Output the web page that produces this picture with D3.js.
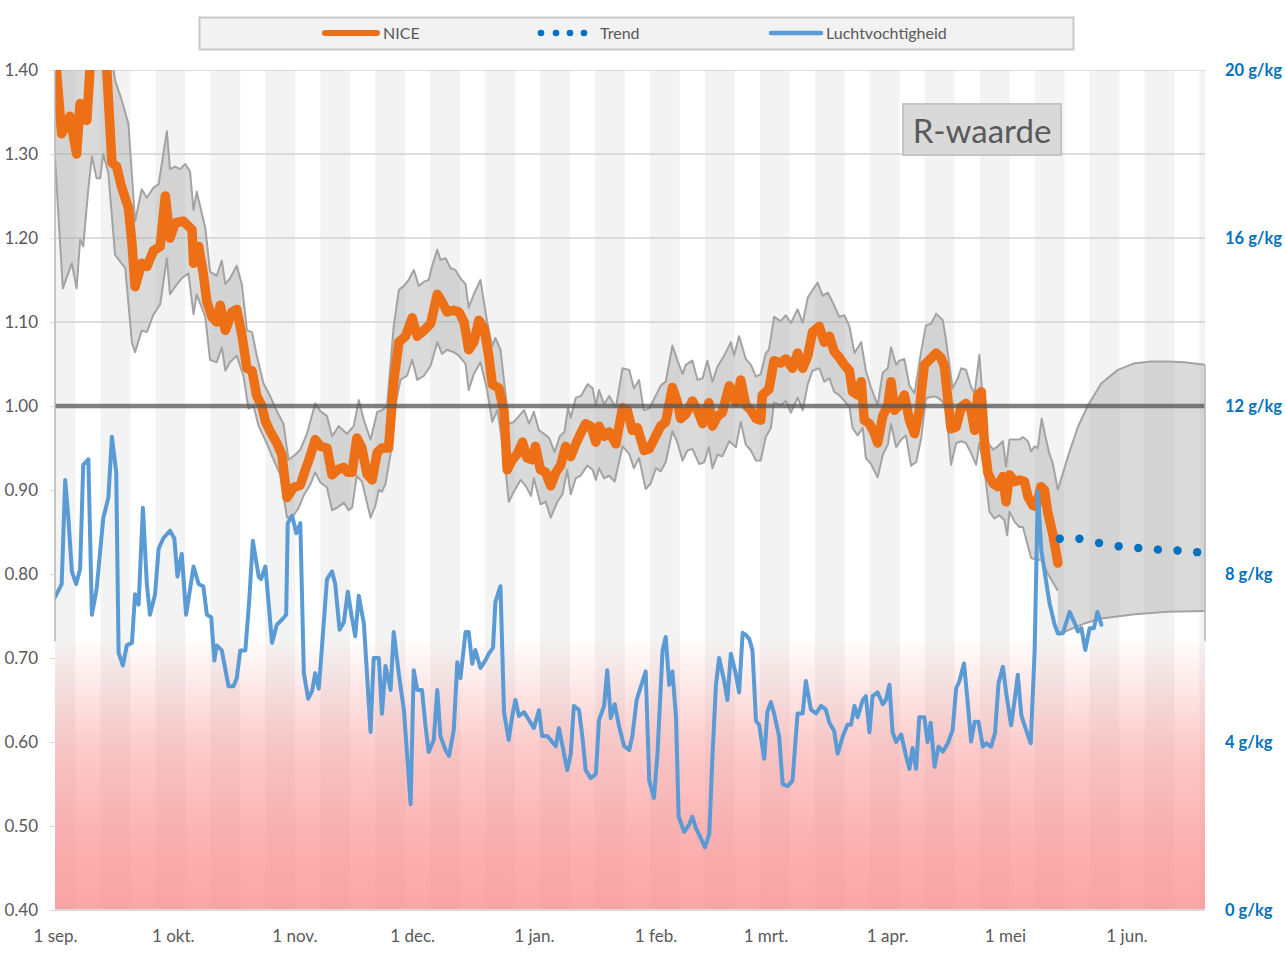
<!DOCTYPE html>
<html><head><meta charset="utf-8">
<script src="https://cdn.jsdelivr.net/npm/d3@7"></script>
<style>body{margin:0;background:#fff;} svg{display:block;font-family:Lato,"Open Sans",sans-serif;}</style>
</head><body><svg id="c" width="1285" height="962"></svg>
<script>
// ---------- data ----------
const startDate = "2020-09-01";
const endDate = "2021-06-21";
const monthTicks = ["2020-09-01","2020-10-01","2020-11-01","2020-12-01","2021-01-01","2021-02-01","2021-03-01","2021-04-01","2021-05-01","2021-06-01"];
const monthLabels = ["1 sep.","1 okt.","1 nov.","1 dec.","1 jan.","1 feb.","1 mrt.","1 apr.","1 mei","1 jun."];
const rTicks = [0.4,0.5,0.6,0.7,0.8,0.9,1.0,1.1,1.2,1.3,1.4];
const rGrid = [1.1,1.2,1.3,1.4];
const hTicks = [0,4,8,12,16,20];
const legendLabels = ["NICE","Trend","Luchtvochtigheid"];
const titleLabel = "R-waarde";
const refLevel = 1.0;

// [days since 1 sep, R-value]
const nice = [[0,1.42],[1.7,1.324],[3.8,1.345],[5.5,1.30],[6.4,1.36],[8.1,1.34],[8.9,1.40],[10,1.46],[11.5,1.48],[12.8,1.42],[13.2,1.40],[14.5,1.29],[15.7,1.285],[17,1.26],[18.7,1.236],[19.6,1.194],[20.4,1.142],[22.1,1.17],[23.4,1.166],[25.1,1.185],[26.8,1.19],[28.1,1.25],[29.3,1.20],[30.6,1.218],[32.7,1.22],[34.9,1.21],[35.3,1.17],[36.6,1.19],[37.8,1.157],[38.7,1.124],[40,1.106],[41.2,1.10],[42.1,1.12],[43.4,1.09],[45.1,1.112],[46.3,1.115],[47.6,1.085],[48.9,1.045],[50.2,1.042],[51.4,1.012],[52.7,1.0],[53.6,0.982],[54.8,0.97],[56.6,0.955],[57.8,0.942],[59.1,0.891],[60.8,0.903],[62.5,0.906],[63.8,0.924],[65,0.94],[66.3,0.96],[67.6,0.952],[69.3,0.95],[70.6,0.918],[71.9,0.924],[73.5,0.927],[74.6,0.921],
[75.7,0.921],[76.9,0.962],[78.2,0.95],[79.5,0.919],[80.8,0.912],[82.1,0.945],[83.3,0.95],[85,0.95],[86.3,1.029],[87.6,1.076],[89.3,1.083],[91,1.105],[92.3,1.083],[94,1.09],[95.7,1.098],[97.4,1.133],[98.6,1.124],[99.9,1.112],[101.6,1.114],[102.9,1.112],[104.2,1.10],[105.4,1.067],[106.7,1.076],[108,1.102],[109.3,1.093],[110.5,1.06],[111.4,1.026],[113.1,1.021],[114.4,0.993],[115.2,0.924],[116.5,0.936],[117.8,0.943],[119.1,0.957],[120.3,0.938],[121.6,0.936],[122.4,0.952],[123.7,0.924],[125,0.921],[126.3,0.905],[127.6,0.921],[128.8,0.929],[130.1,0.952],[131.4,0.94],[132.7,0.955],[133.9,0.967],[135.2,0.979],[136.5,0.976],[137.8,0.957],[138.6,0.976],[139.9,0.964],[141.2,0.969],[142.9,0.955],[144.6,0.998],[145.8,0.995],[147.1,0.971],
[148.4,0.974],[150.1,0.947],[151.4,0.949],[152.6,0.96],[154.3,0.976],[155.6,0.981],[157.3,1.022],[158.6,1.004],[159.4,0.985],[160.7,0.99],[162.4,1.006],[163.7,0.995],[165,0.979],[166.6,1.004],[167.5,0.976],[168.8,0.988],[170,0.992],[171.8,1.024],[173.5,1.004],[174.7,1.031],[176,1.001],[177.3,0.995],[178.6,0.985],[179.8,0.983],[180.2,1.013],[181.9,1.02],[183.2,1.054],[184.9,1.051],[186.2,1.056],[187.9,1.045],[189.2,1.063],[190.5,1.045],[191.8,1.06],[193,1.088],[194.7,1.095],[196,1.076],[197.3,1.083],[198.5,1.065],[199.8,1.058],[201.1,1.049],[202.4,1.042],[203.2,1.017],[204.5,1.013],[205.4,1.029],[206.2,0.983],[207.5,0.979],[208.8,0.967],[209.6,0.956],[210.9,0.988],[212.2,1.001],[213,1.029],[213.9,0.995],[215.1,1.001],[216.4,1.013],[217.7,0.983],[219,0.967],[220.2,0.995],
[221.5,1.049],[222.8,1.055],[224.5,1.063],[225.8,1.057],[226.6,1.047],[227.5,1.007],[228.3,0.973],[229.6,0.975],[230.9,0.999],[232.1,1.003],[233.4,0.995],[234.3,0.971],[235.1,1.013],[236,1.017],[236.8,0.956],[237.7,0.92],[239,0.908],[240.2,0.904],[241.5,0.916],[242.3,0.886],[243.2,0.918],[244.5,0.91],[245.7,0.912],[247,0.91],[247.9,0.892],[249.1,0.882],[250,0.88],[251.2,0.904],[252.1,0.9],[252.9,0.874],[254.2,0.848],[255.1,0.825],[255.5,0.813]];

const niceUpper = [[0,1.46],[5,1.48],[10,1.52],[14,1.43],[15.3,1.388],[17,1.364],[18.7,1.336],[20.4,1.22],[22.1,1.258],[23.4,1.248],[25.1,1.26],[26.4,1.264],[28.5,1.327],[29.3,1.282],[30.6,1.285],[31.9,1.282],[33.2,1.288],[34.4,1.279],[35.3,1.233],[36.1,1.255],[38.3,1.212],[39.5,1.16],[41.2,1.155],[42.5,1.173],[43.4,1.145],[44.6,1.152],[46.3,1.167],[47.6,1.145],[48.9,1.09],[50.2,1.088],[51.4,1.06],[53.1,1.027],[54.8,1.012],[56.5,0.994],[58.2,0.979],[59.5,0.936],[61.2,0.942],[62.5,0.948],[64.2,0.967],[66.3,1.003],[67.6,0.994],[69.3,0.988],[70.6,0.964],[72.3,0.976],[74.4,0.967],
[76.1,0.976],[77.4,1.007],[78.7,0.983],[80.4,0.96],[82.1,0.993],[83.3,0.995],[84.6,1.0],[86.3,1.095],[87.6,1.138],[88.9,1.143],[90.1,1.15],[91.4,1.162],[92.7,1.143],[94,1.148],[95.2,1.15],[96.1,1.167],[97.4,1.186],[98.2,1.174],[99.5,1.176],[100.8,1.164],[102,1.162],[103.3,1.152],[104.6,1.145],[105.4,1.117],[106.7,1.133],[108.4,1.15],[110.1,1.10],[111.4,1.071],[112.2,1.081],[113.5,1.067],[114.8,1.014],[115.6,0.979],[116.9,0.981],[118.2,0.988],[119.5,0.995],[120.8,0.979],[122,0.993],[123.3,0.971],[124.6,0.967],[125.9,0.962],[127.3,0.945],[128.6,0.964],[129.8,0.969],[130.7,0.998],[131.4,0.986],[132.7,1.01],[134,1.012],[135.7,1.026],[137,1.021],[137.8,1.0],[138.6,1.019],[139.9,1.002],[141.2,1.012],[142.9,0.998],[144.6,1.045],[146.3,1.043],[147.5,1.021],
[148.8,1.031],[150,0.995],[151.4,0.997],[152.6,1.008],[154.3,1.024],[155.6,1.029],[157.3,1.072],[158.6,1.054],[159.9,1.038],[160.7,1.049],[162.4,1.054],[163.7,1.031],[165,1.033],[166.2,1.054],[167.5,1.029],[168.8,1.047],[170.5,1.06],[172.2,1.076],[173,1.06],[174.3,1.083],[176,1.056],[177.3,1.049],[178.6,1.035],[179.8,1.038],[181.1,1.063],[181.9,1.067],[183.2,1.106],[184.9,1.101],[186.2,1.108],[187.5,1.099],[189.2,1.115],[190.5,1.099],[191.8,1.129],[193,1.138],[194.3,1.147],[195.6,1.131],[196.9,1.135],[198.1,1.124],[199.8,1.106],[201.1,1.108],[202.4,1.095],[203.7,1.063],[205.4,1.076],[206.6,1.042],[207.9,1.022],[209.6,1.001],[210.9,1.04],[212.2,1.045],[213,1.07],[214.3,1.049],[215.1,1.054],[216.4,1.056],[217.7,1.024],[219,1.015],[220.5,1.06],
[221.9,1.096],[223.2,1.098],[224.5,1.11],[226.2,1.102],[227,1.079],[228.7,1.021],[230,1.033],[230.9,1.045],[232.1,1.043],[233.4,1.023],[234.3,1.015],[235.5,1.061],[236.4,1.007],[237.7,0.956],[239,0.948],[240.2,0.952],[241.5,0.958],[242.3,0.928],[243.2,0.96],[244.5,0.96],[245.7,0.96],[246.6,0.963],[247.9,0.958],[248.7,0.946],[249.6,0.952],[250.4,0.95],[251.4,0.985],[252.5,0.96],[253.3,0.944],[254.2,0.932],[255.5,0.90]];

const niceLower = [[0,1.295],[2,1.14],[4.3,1.17],[5.5,1.14],[6.4,1.198],[7.2,1.19],[8.5,1.259],[9.4,1.297],[10.6,1.271],[11.5,1.271],[12.3,1.30],[13.6,1.277],[15.3,1.18],[17.9,1.164],[19.6,1.075],[20.4,1.064],
[22.1,1.09],[23.4,1.088],[25.1,1.109],[26.8,1.121],[28.5,1.176],[29.3,1.133],[30.6,1.142],[32.3,1.152],[34,1.158],[35.3,1.109],[36.1,1.133],[38.3,1.106],[39.5,1.055],[41.2,1.052],[42.5,1.07],[43.4,1.042],[44.6,1.052],[46.3,1.06],[48,1.036],[49.3,0.997],[50.6,1.0],[51.9,0.976],[54,0.955],[55.7,0.936],[57.4,0.918],[59.1,0.867],[60.8,0.87],[62.1,0.879],[63.4,0.894],[65,0.906],[66.3,0.921],[67.6,0.909],[69.3,0.903],[70.6,0.876],[71.9,0.879],[73.6,0.885],[74.8,0.876],
[75.7,0.879],[76.9,0.917],[78.2,0.91],[80.4,0.867],[81.6,0.881],[82.5,0.90],[83.3,0.898],[84.2,0.907],[85.5,0.943],[86.7,1.0],[88,1.031],[89.7,1.036],[91,1.055],[92.3,1.031],[94,1.036],[95.7,1.048],[97.4,1.076],[98.6,1.062],[99.9,1.067],[101.6,1.064],[102.9,1.06],[104.6,1.05],[105.4,1.019],[106.7,1.038],[108.4,1.052],[110.1,1.019],[111.4,0.981],[112.7,0.995],[114.4,0.943],[115.6,0.886],[116.9,0.898],[118.6,0.912],[119.9,0.905],[121.3,0.893],[122,0.914],[123.7,0.883],[125,0.886],[126.3,0.867],[128,0.886],[129.3,0.895],[130.5,0.924],[131.4,0.895],[132.7,0.914],[133.9,0.917],[135.6,0.929],[137,0.924],[137.8,0.912],[138.6,0.926],[139.9,0.914],[141.2,0.917],[142.6,0.91],[144.6,0.952],[146.3,0.943],[147.5,0.926],
[148.8,0.938],[150.5,0.901],[151.8,0.908],[153.1,0.926],[154.3,0.922],[155.6,0.933],[157.3,0.97],[158.6,0.956],[159.9,0.935],[161.1,0.947],[162.4,0.949],[164.1,0.931],[165.4,0.933],[166.6,0.951],[167.5,0.926],[168.8,0.942],[170,0.94],[171.8,0.958],[173.5,0.951],[174.7,0.981],[176,0.954],[177.3,0.947],[178.6,0.935],[179.8,0.935],[181.1,0.963],[182.4,0.974],[183.2,1.004],[184.9,1.001],[186.2,1.006],[187.5,0.992],[189.2,1.01],[190.5,0.995],[191.8,1.026],[193,1.042],[194.7,1.045],[196,1.029],[197.3,1.033],[198.5,1.017],[199.8,1.013],[201.1,1.006],[202.4,0.999],[203.2,0.974],[204.5,0.965],[205.8,0.974],[206.6,0.938],[207.9,0.931],[209.6,0.915],[210.9,0.942],[212.2,0.954],[213,0.979],[214.3,0.951],[215.6,0.96],[216.8,0.965],[218.1,0.929],[219.4,0.933],[220.7,0.962],
[221.9,1.009],[223.2,1.011],[224.5,1.011],[225.8,1.007],[227,0.999],[228.3,0.93],[229.6,0.956],[230.9,0.958],[232.1,0.956],[233.4,0.944],[234.7,0.93],[235.5,0.956],[236.8,0.924],[238.1,0.874],[239.4,0.866],[240.6,0.87],[241.9,0.864],[242.6,0.846],[243.2,0.874],[244.5,0.862],[245.7,0.856],[246.6,0.856],[247.4,0.842],[248.7,0.819],[250,0.817],[251.3,0.817],[253,0.80],[255.5,0.78]];

const forecastUpper = [[255.5,0.90],[258.1,0.94],[260.6,0.975],[263.2,1.001],[266.6,1.027],[270.8,1.043],[275.1,1.051],[279.3,1.053],[283.6,1.053],[287.8,1.052],[293,1.049]];
const forecastLower = [[255.5,0.727],[258.1,0.733],[262.2,0.741],[266.6,0.747],[275.1,0.752],[283.6,0.755],[293,0.756]];
const trend = [[256,0.842],[261,0.842],[266,0.837],[271,0.833],[276,0.831],[281,0.829],[286,0.828],[291,0.826]];

// [days since 1 sep, g/kg]
const humidity = [[0,7.45],[1.7,7.76],[2.6,10.24],[3.4,9.33],[4.3,8.06],[5.4,7.76],[6.4,8.12],[7.2,10.6],[8.5,10.73],[9.4,7.03],[10.6,7.64],[12.3,9.33],[13.6,9.82],[14.5,11.27],[15.6,10.42],[16.2,6.12],[17.3,5.82],[18.3,6.3],[19.6,6.36],[20.4,7.52],[21.3,7.27],[22.4,9.58],[23.4,7.76],[24.2,7.03],[25.5,7.52],[26.4,8.6],[27.6,8.85],[29.3,9.03],[30.4,8.85],[31.2,7.94],[32.3,8.48],[33.4,7.03],[35.3,8.18],[36.6,7.76],[37.8,7.7],[38.7,7.03],[39.8,6.97],[40.6,5.94],[41.2,6.3],[42.5,6.18],[44.2,5.33],[45.5,5.33],[46.3,5.52],[47.2,6.18],[48.5,6.18],[49.5,7.39],[50.4,8.79],[51.9,7.94],[52.5,7.88],[53.6,8.18],[55.3,6.36],[56.5,6.79],[57.8,6.91],[58.9,7.03],[59.3,9.21],[60.4,9.39],[61.5,8.97],[62.5,9.21],[63.4,5.64],[64.5,5.03],[65.5,5.21],[66.3,5.64],[67.2,5.27],[68,6.24],[69.3,7.88],[70.6,8.06],[71.4,7.76],[72.5,6.67],[73.6,6.85],[74.6,7.58],[75.5,7.04],
[76.5,6.52],[77.4,7.48],[78.7,6.81],[80.4,4.24],[81.2,6.0],[82.5,6.0],[83.3,4.67],[84.2,5.81],[85.5,5.24],[86.3,6.62],[87.6,5.62],[88.9,4.76],[90.6,2.52],[91.4,5.71],[92.3,5.24],[93.5,5.24],[94.4,4.38],[95.2,3.76],[96.5,4.05],[97.4,5.24],[98.2,4.14],[99.5,3.81],[100.4,3.67],[101.6,4.29],[102.5,5.9],[103.3,5.52],[104.6,6.62],[105.4,6.62],[106.3,5.86],[107.1,6.19],[108.4,5.76],[109.7,5.95],[110.5,6.1],[111.6,6.24],[112.2,7.33],[113.5,7.71],[114.4,4.71],[115.6,4.05],[116.5,4.62],[117.3,5.0],[118.2,4.62],[119.5,4.71],[120.8,4.52],[122,4.33],[123.3,4.76],[124.1,4.14],[125.4,4.14],[126.3,4.05],[127.6,3.9],[128.4,4.33],[129.5,3.81],[130.5,3.33],[131.4,3.71],[132.2,4.86],[133.5,4.76],[134.4,4.1],[135.2,3.33],[136.5,3.14],[137.8,3.24],[138.6,4.52],[139.9,4.86],[140.7,5.71],[141.6,4.57],[142.6,4.9],[143.7,4.38],[145,3.9],[146.3,3.81],[147.1,4.14],[148.2,5.0],
[149.2,5.3],[150.5,5.68],[151.4,3.08],[152.6,2.67],[153.5,3.72],[154.8,6.18],[155.6,6.5],[156.5,5.36],[157.3,5.68],[158.2,4.63],[158.9,2.22],[160.3,1.86],[161.6,2.04],[162.4,2.22],[163.3,1.95],[164.5,1.72],[165.6,1.49],[166.7,1.81],[167.5,3.63],[168.4,5.36],[169.2,6.0],[170.5,5.45],[171.3,5.0],[172.2,6.1],[173.5,5.6],[174.3,5.18],[175.2,6.6],[176,6.55],[176.9,6.45],[177.7,6.18],[178.6,4.5],[179.4,4.41],[180.7,3.6],[181.5,4.72],[182.4,4.95],[183.2,4.68],[184.5,4.13],[185.4,2.99],[186.7,2.95],[187.9,3.08],[189.2,4.68],[190.5,4.68],[191.3,5.45],[192.6,4.77],[193.9,4.68],[195.2,4.86],[196.4,4.77],[197.3,4.46],[198.5,4.27],[199.4,3.72],[200.7,4.13],[201.9,4.41],[202.8,4.41],[203.7,4.86],[204.5,4.59],[205.8,5.0],[206.6,5.09],[207.5,4.23],[208.3,5.09],[209.6,5.18],[210.9,4.9],[211.7,5.0],[212.6,5.36],[213.4,4.23],[214.3,4.0],[215.6,4.18],[216.8,3.68],[217.7,3.36],[218.5,3.86],[219.4,3.36],[220.2,4.59],[221.5,4.59],[222.3,4.0],[223.1,4.46],
[224.1,3.41],[225.1,3.89],[226.2,3.77],[227.5,3.97],[228.7,4.29],[229.6,5.28],[230.4,5.44],[231.6,5.87],[232.6,4.88],[233.4,4.01],[234.3,4.48],[235.3,4.48],[236.4,3.89],[237.2,3.97],[238.5,3.89],[239.5,4.21],[240.4,5.4],[241.5,5.79],[242.3,5.2],[243.6,4.4],[244.5,5.0],[245.3,5.6],[246.2,4.64],[247.4,4.29],[248.6,3.97],[249.6,6.19],[250.4,9.96],[251.3,8.57],[252.6,7.78],[253.4,7.3],[254.7,6.79],[255.5,6.59],[256.8,6.59],[258.5,7.1],[259.8,6.83],[260.6,6.63],[261.5,6.71],[262.5,6.19],[263.6,6.71],[264.7,6.71],[265.6,7.1],[266.6,6.79]];

// ---------- drawing ----------
const svg = d3.select("#c");
const parse = d3.utcParse("%Y-%m-%d");
const t0 = parse(startDate);
const dayDate = d => new Date(t0.getTime() + d * 864e5);
const L = 55, R = 1205, T = 70, B = 910;
const x = d3.scaleUtc().domain([t0, parse(endDate)]).range([L, R]);
const y = d3.scaleLinear().domain([0.4, 1.4]).range([B, T]);
const yH = d3.scaleLinear().domain([0, 20]).range([B, T]);
const lastDay = (parse(endDate) - t0) / 864e5;

const defs = svg.append("defs");
defs.append("clipPath").attr("id", "plot").append("rect").attr("x", L).attr("y", T).attr("width", R - L).attr("height", B - T);
const grad = defs.append("linearGradient").attr("id", "pink").attr("gradientUnits", "userSpaceOnUse")
  .attr("x1", 0).attr("x2", 0).attr("y1", y(0.725)).attr("y2", B);
[[0, 0], [0.4, 0.45], [0.7, 0.65], [1, 0.78]].forEach(([o, a]) =>
  grad.append("stop").attr("offset", o).attr("stop-color", "rgb(250,140,140)").attr("stop-opacity", a));

const g = svg.append("g").attr("clip-path", "url(#plot)");

// weekly alternating stripes
const stripes = [];
for (let s = 11.6 - 14; s < lastDay; s += 14) stripes.push([Math.max(0, s), Math.min(lastDay, s + 7.6)]);
g.selectAll("rect.stripe").data(stripes).join("rect").attr("class", "stripe")
  .attr("x", d => x(dayDate(d[0]))).attr("width", d => x(dayDate(d[1])) - x(dayDate(d[0])))
  .attr("y", T).attr("height", B - T).attr("fill", "#f3f3f3");

// pink low-humidity zone
g.append("rect").attr("x", L).attr("y", y(0.725)).attr("width", R - L).attr("height", B - y(0.725)).attr("fill", "url(#pink)");

// gridlines
g.selectAll("line.grid").data(rGrid).join("line").attr("class", "grid")
  .attr("x1", L).attr("x2", R).attr("y1", d => y(d)).attr("y2", d => y(d))
  .attr("stroke", "#d2d2d2").attr("stroke-width", 1.5);

// side edges
svg.append("line").attr("x1", L).attr("x2", L).attr("y1", T).attr("y2", y(0.72)).attr("stroke", "#b4b4b4").attr("stroke-width", 1.5);
svg.append("line").attr("x1", R).attr("x2", R).attr("y1", y(forecastUpper[forecastUpper.length-1][1])).attr("y2", y(0.72)).attr("stroke", "#b4b4b4").attr("stroke-width", 1.5);

const line = d3.line().x(d => x(dayDate(d[0]))).y(d => y(d[1]));
const lineH = d3.line().x(d => x(dayDate(d[0]))).y(d => yH(d[1]));

// confidence band
function band(up, lo) {
  g.append("path").attr("d", line(up.concat(lo.slice().reverse())) + "Z")
    .attr("fill", "#a6a6a6").attr("fill-opacity", 0.42).attr("stroke", "none");
  [up, lo].forEach(s => g.append("path").attr("d", line(s)).attr("fill", "none")
    .attr("stroke", "#a3a3a3").attr("stroke-width", 2).attr("stroke-linejoin", "round"));
}
band(niceUpper, niceLower);
band(forecastUpper, forecastLower);

// NICE line
g.append("path").attr("d", line(nice)).attr("fill", "none").attr("stroke", "#ee7016")
  .attr("stroke-width", 9.5).attr("stroke-linejoin", "round").attr("stroke-linecap", "round");

// humidity line
g.append("path").attr("d", lineH(humidity)).attr("fill", "none").attr("stroke", "#5b9bd5")
  .attr("stroke-width", 4).attr("stroke-linejoin", "round").attr("stroke-linecap", "round");

// reference line R=1
g.append("line").attr("x1", L).attr("x2", R).attr("y1", y(refLevel)).attr("y2", y(refLevel))
  .attr("stroke", "#555").attr("stroke-opacity", 0.75).attr("stroke-width", 4.5).attr("stroke-linecap", "round");

// trend dots
g.selectAll("circle.trend").data(trend).join("circle").attr("class", "trend")
  .attr("cx", d => x(dayDate(d[0]))).attr("cy", d => y(d[1])).attr("r", 4.2).attr("fill", "#0070c0");

// x axis baseline
svg.append("line").attr("x1", L).attr("x2", R).attr("y1", B).attr("y2", B).attr("stroke", "#d9d9d9").attr("stroke-width", 2);

// axes
const ax = svg.append("g").attr("transform", `translate(0,${B})`)
  .call(d3.axisBottom(x).tickValues(monthTicks.map(parse)).tickSize(0).tickPadding(20)
    .tickFormat((d, i) => monthLabels[i]));
ax.select(".domain").remove();
ax.selectAll("text").attr("fill", "#595959").style("font-size", "17px").style("font-family", "Lato");

const ayl = svg.append("g").attr("transform", `translate(${L},0)`)
  .call(d3.axisLeft(y).tickValues(rTicks).tickSize(5).tickPadding(12).tickFormat(d3.format(".2f")));
ayl.select(".domain").remove();
ayl.selectAll("line").attr("stroke", "#d9d9d9");
ayl.selectAll("text").attr("fill", "#595959").style("font-size", "17px").style("font-family", "Lato");

const ayr = svg.append("g").attr("transform", `translate(${R},0)`)
  .call(d3.axisRight(yH).tickValues(hTicks).tickSize(0).tickPadding(20).tickFormat(d => d + " g/kg"));
ayr.select(".domain").remove();
ayr.selectAll("text").attr("fill", "#0070c0").style("font-size", "16.5px").style("font-weight", "bold").style("font-family", "Lato");

// title box
svg.append("rect").attr("x", 903).attr("y", 104).attr("width", 158).attr("height", 51)
  .attr("fill", "#d9d9d9").attr("stroke", "#c4c4c4").attr("stroke-width", 2);
svg.append("text").attr("x", 982).attr("y", 131).attr("dy", "0.35em").attr("text-anchor", "middle")
  .attr("fill", "#595959").style("font-size", "33px").text(titleLabel);

// legend
const lg = svg.append("g");
lg.append("rect").attr("x", 199.5).attr("y", 17.5).attr("width", 874).attr("height", 32)
  .attr("fill", "#f2f2f2").attr("stroke", "#c8c8c8").attr("stroke-width", 2);
lg.append("line").attr("x1", 325).attr("x2", 377).attr("y1", 33).attr("y2", 33)
  .attr("stroke", "#ee7016").attr("stroke-width", 6).attr("stroke-linecap", "round");
lg.selectAll("circle").data([541, 556, 570, 584]).join("circle")
  .attr("cx", d => d).attr("cy", 33).attr("r", 3.3).attr("fill", "#0070c0");
lg.append("line").attr("x1", 771).attr("x2", 821).attr("y1", 33).attr("y2", 33)
  .attr("stroke", "#5b9bd5").attr("stroke-width", 4.5).attr("stroke-linecap", "round");
lg.selectAll("text").data(legendLabels.map((t, i) => [t, [383, 600, 826][i]])).join("text")
  .attr("x", d => d[1]).attr("y", 33).attr("dy", "0.35em").attr("fill", "#595959")
  .style("font-size", "16px").text(d => d[0]);
</script></body></html>
